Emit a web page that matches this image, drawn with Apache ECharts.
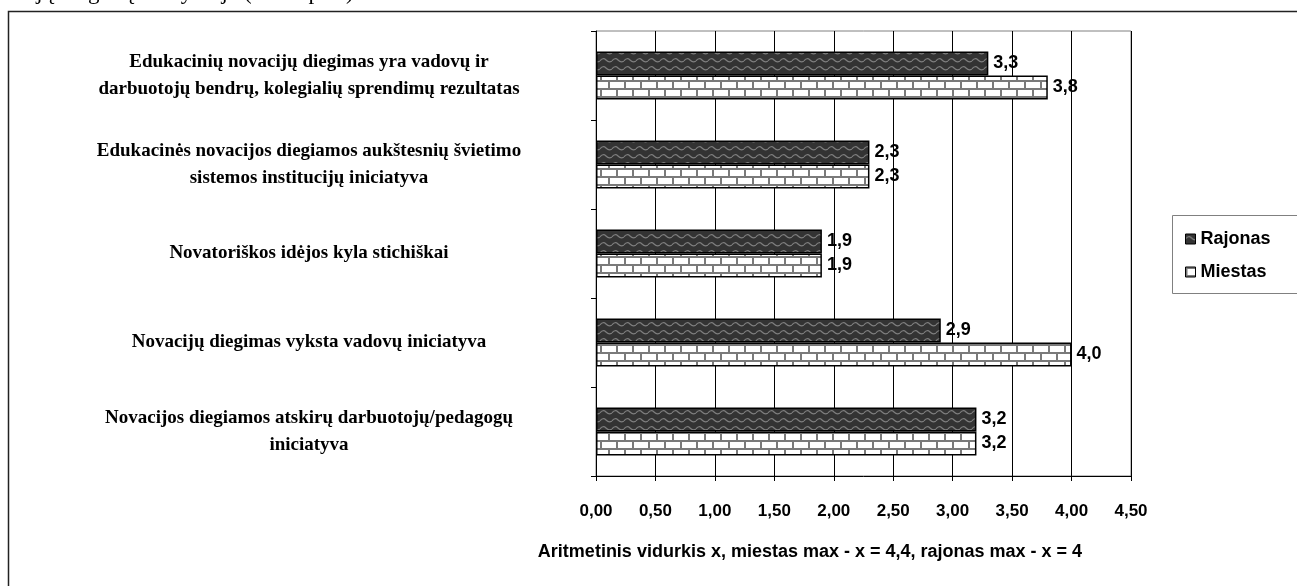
<!DOCTYPE html>
<html>
<head>
<meta charset="utf-8">
<script src="https://cdn.jsdelivr.net/npm/echarts@6/dist/echarts.min.js"></script>
<style>
  html, body { margin: 0; padding: 0; background: #fff; }
  #chart { width: 1297px; height: 586px; }
</style>
</head>
<body>
<div id="chart"></div>
<script>
// kategorijos (iš viršaus į apačią)
const categories = [
  'Edukacinių novacijų diegimas yra vadovų ir\ndarbuotojų bendrų, kolegialių sprendimų rezultatas',
  'Edukacinės novacijos diegiamos aukštesnių švietimo\nsistemos institucijų iniciatyva',
  'Novatoriškos idėjos kyla stichiškai',
  'Novacijų diegimas vyksta vadovų iniciatyva',
  'Novacijos diegiamos atskirų darbuotojų/pedagogų\niniciatyva'
]
// Rajonas
const rajonas = [3.3, 2.3, 1.9, 2.9, 3.2]
// Miestas
const miestas = [3.8, 2.3, 1.9, 4.0, 3.2]
const xTicks = [0, 0.5, 1, 1.5, 2, 2.5, 3, 3.5, 4, 4.5]

const sans = '"Liberation Sans", Arial, sans-serif'
const serif = '"Liberation Serif", "Times New Roman", serif'

// tamsus fonas su banguotomis linijomis
function wavePattern() {
  const c = document.createElement('canvas')
  c.width = 12
  c.height = 8
  const ctx = c.getContext('2d')
  ctx.fillStyle = '#333'
  ctx.fillRect(0, 0, 12, 8)
  ctx.strokeStyle = '#7e7e7e'
  ctx.lineWidth = 1.2
  ctx.beginPath()
  ctx.moveTo(0, 5)
  ctx.quadraticCurveTo(3, 1, 6, 4)
  ctx.quadraticCurveTo(9, 7, 12, 5)
  ctx.stroke()
  return c
}

// plytų raštas
function brickPattern() {
  const c = document.createElement('canvas')
  c.width = 16
  c.height = 16
  const ctx = c.getContext('2d')
  ctx.fillStyle = '#fff'
  ctx.fillRect(0, 0, 16, 16)
  ctx.fillStyle = '#7a7a7a'
  ctx.fillRect(0, 0, 16, 2)
  ctx.fillRect(0, 8, 16, 2)
  ctx.fillRect(0, 0, 2, 8)
  ctx.fillRect(8, 8, 2, 8)
  return c
}

const fmt1 = v => v.toFixed(1).replace('.', ',')

const barLabel = {
  show: true,
  position: 'right',
  distance: 5,
  fontFamily: sans,
  fontWeight: 'bold',
  fontSize: 18,
  color: '#000',
  formatter: p => fmt1(p.value)
}

const chart = echarts.init(document.getElementById('chart'), null, { renderer: 'canvas' })

chart.setOption({
  animation: false,
  backgroundColor: '#fff',
  grid: {
    left: 596,
    right: 166,
    top: 31,
    bottom: 110,
    show: true,
    borderColor: '#808080',
    borderWidth: 1
  },
  legend: {
    orient: 'vertical',
    left: 1180,
    top: 225,
    itemWidth: 10,
    itemHeight: 10,
    itemGap: 15,
    icon: 'rect',
    itemStyle: { borderColor: '#000', borderWidth: 1 },
    textStyle: { fontFamily: sans, fontWeight: 'bold', fontSize: 18, color: '#000' },
    data: ['Rajonas', 'Miestas']
  },
  xAxis: {
    type: 'value',
    min: xTicks[0],
    max: xTicks[xTicks.length - 1],
    interval: 0.5,
    axisLine: { show: true, lineStyle: { color: '#000', width: 1 } },
    axisTick: { show: true, length: 5, lineStyle: { color: '#000' } },
    splitLine: { show: true, lineStyle: { color: '#000', width: 1 } },
    axisLabel: {
      margin: 27,
      fontFamily: sans,
      fontWeight: 'bold',
      fontSize: 17,
      color: '#000',
      formatter: v => v.toFixed(2).replace('.', ',')
    }
  },
  yAxis: {
    type: 'category',
    inverse: true,
    data: categories,
    axisLine: { show: true, lineStyle: { color: '#000', width: 1 } },
    axisTick: { show: true, length: 5, lineStyle: { color: '#000' } },
    axisLabel: {
      align: 'center',
      margin: 287,
      fontFamily: serif,
      fontWeight: 'bold',
      fontSize: 19,
      lineHeight: 27,
      color: '#000'
    }
  },
  series: [{
    name: 'Rajonas',
    type: 'bar',
    data: rajonas,
    barWidth: 24,
    barGap: '0%',
    itemStyle: {
      color: { image: wavePattern(), repeat: 'repeat' },
      borderColor: '#000',
      borderWidth: 1.5
    },
    label: barLabel
  }, {
    name: 'Miestas',
    type: 'bar',
    data: miestas,
    barWidth: 24,
    barGap: '0%',
    itemStyle: {
      color: { image: brickPattern(), repeat: 'repeat' },
      borderColor: '#000',
      borderWidth: 1.5
    },
    label: barLabel
  }],
  graphic: [{
    type: 'rect',
    shape: { x: 8.5, y: 11.5, width: 1300, height: 600 },
    style: { fill: 'none', stroke: '#222', lineWidth: 1.5 },
    silent: true,
    z: -10
  }, {
    type: 'rect',
    shape: { x: 1172.5, y: 215.5, width: 140, height: 78 },
    style: { fill: 'none', stroke: '#808080', lineWidth: 1 },
    silent: true
  }, {
    type: 'text',
    left: -2,
    top: -19,
    style: {
      text: 'vacijų diegimą mokykloje (žr. 18 pav.).',
      font: '23px ' + serif,
      fill: '#000'
    },
    silent: true
  }, {
    type: 'text',
    x: 810,
    y: 552,
    style: {
      text: 'Aritmetinis vidurkis x, miestas max - x = 4,4, rajonas max - x = 4',
      font: 'bold 18px ' + sans,
      fill: '#000',
      align: 'center',
      verticalAlign: 'middle'
    },
    silent: true
  }]
})
</script>
</body>
</html>
